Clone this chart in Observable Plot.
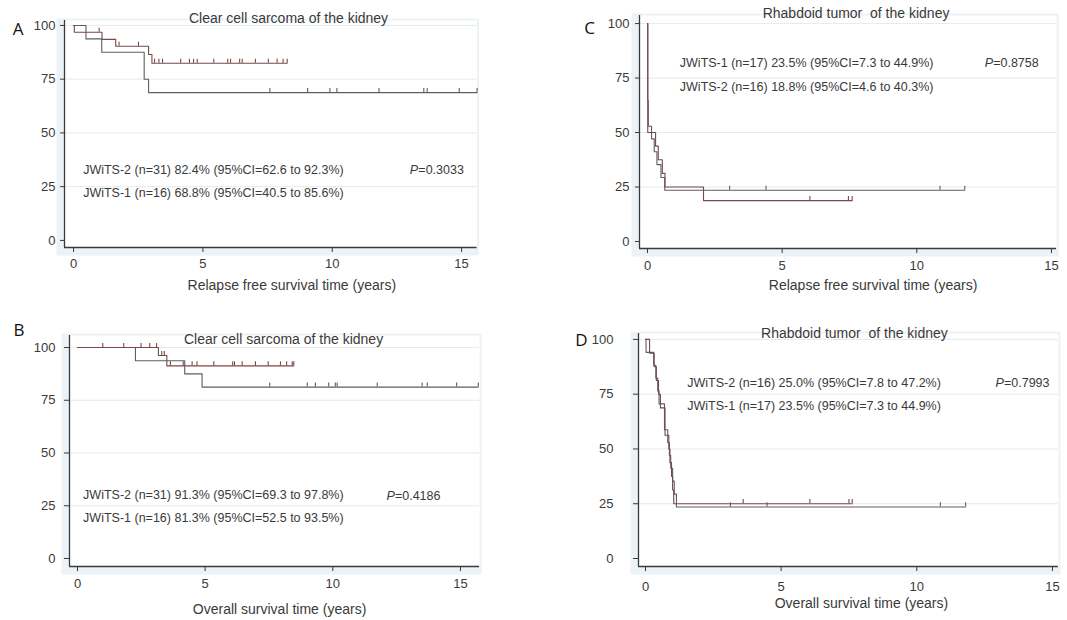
<!DOCTYPE html>
<html><head><meta charset="utf-8">
<script src="https://cdn.jsdelivr.net/npm/d3@7"></script>
<script src="https://cdn.jsdelivr.net/npm/@observablehq/plot@0.6"></script>
<style>
body{margin:0;background:#fff;}
#wrap{position:relative;width:1067px;height:620px;overflow:hidden;background:#fff;}
.panel{position:absolute;}
</style></head><body><div id="wrap"></div>
<script>
// ---------- data ----------
const yTicks = [0, 25, 50, 75, 100];
const xTicks = [0, 5, 10, 15];
const groupNames = ["JWiTS-1", "JWiTS-2"];
const groupColors = ["#5a5f66", "#7a4848"];

const panelLetters = ["A", "B", "C", "D"];
const panelTitles = ["Clear cell sarcoma of the kidney", "Clear cell sarcoma of the kidney", "Rhabdoid tumor  of the kidney", "Rhabdoid tumor  of the kidney"];
const xLabels = ["Relapse free survival time (years)", "Overall survival time (years)", "Relapse free survival time (years)", "Overall survival time (years)"];
const pValues = ["0.3033", "0.4186", "0.8758", "0.7993"];

const notesA = ["JWiTS-2 (n=31) 82.4% (95%CI=62.6 to 92.3%)", "JWiTS-1 (n=16) 68.8% (95%CI=40.5 to 85.6%)"];
const notesB = ["JWiTS-2 (n=31) 91.3% (95%CI=69.3 to 97.8%)", "JWiTS-1 (n=16) 81.3% (95%CI=52.5 to 93.5%)"];
const notesC = ["JWiTS-1 (n=17) 23.5% (95%CI=7.3 to 44.9%)", "JWiTS-2 (n=16) 18.8% (95%CI=4.6 to 40.3%)"];
const notesD = ["JWiTS-2 (n=16) 25.0% (95%CI=7.8 to 47.2%)", "JWiTS-1 (n=17) 23.5% (95%CI=7.3 to 44.9%)"];

// Panel A: clear cell sarcoma, relapse free survival
const A1_time = [0, 0.48, 1.09, 2.73, 2.9, 15.6];
const A1_surv = [100, 93.75, 87.5, 75, 68.75, 68.75];
const A1_cens = [7.59, 9.05, 9.91, 10.18, 11.81, 13.54, 13.67, 14.91, 15.6];
const A2_time = [0, 0.03, 1.1, 1.63, 2.9, 3.03, 8.26];
const A2_surv = [100, 96.8, 93.5, 90.3, 86.5, 82.4, 82.4];
const A2_cens = [0.99, 1.76, 2.51, 3.13, 3.3, 3.44, 4.14, 4.48, 4.64, 4.78, 5.42, 5.96, 6.07, 6.42, 6.52, 7.03, 7.53, 7.87, 8.1, 8.26];

// Panel B: clear cell sarcoma, overall survival
const B1_time = [0, 2.27, 4.2, 4.88, 15.7];
const B1_surv = [100, 93.75, 87.5, 81.25, 81.25];
const B1_cens = [7.53, 9.0, 9.32, 9.84, 10.1, 10.17, 11.74, 13.5, 13.7, 14.85, 15.7];
const B2_time = [0, 3.17, 3.5, 8.47];
const B2_surv = [100, 96.2, 91.3, 91.3];
const B2_cens = [0.99, 1.81, 2.49, 2.83, 3.1, 3.3, 3.4, 3.64, 4.14, 4.49, 4.68, 5.34, 6.08, 6.15, 6.45, 6.97, 7.47, 7.95, 8.19, 8.41, 8.47];

// Panel C: rhabdoid tumor, relapse free survival
const C1_time = [0, 0.01, 0.03, 0.15, 0.25, 0.35, 0.5, 0.64, 11.78];
const C1_surv = [100, 64.7, 52.9, 47.1, 41.2, 35.3, 29.4, 23.5, 23.5];
const C1_cens = [3.05, 4.4, 10.86, 11.78];
const C2_time = [0, 0.01, 0.3, 0.4, 0.55, 0.65, 2.08, 7.6];
const C2_surv = [100, 50, 43.75, 37.5, 31.25, 25, 18.75, 18.75];
const C2_cens = [6.03, 7.46, 7.6];

// Panel D: rhabdoid tumor, overall survival
const D1_time = [0, 0.02, 0.3, 0.38, 0.45, 0.5, 0.7, 0.82, 0.88, 0.93, 1.0, 1.06, 1.14, 11.8];
const D1_surv = [100, 94.1, 88.2, 82.4, 76.5, 70.6, 58.8, 52.9, 47.1, 41.2, 35.3, 29.4, 23.5, 23.5];
const D1_cens = [3.13, 4.48, 10.87, 11.8];
const D2_time = [0, 0.15, 0.32, 0.4, 0.48, 0.55, 0.72, 0.86, 0.9, 0.96, 1.0, 1.04, 7.62];
const D2_surv = [100, 93.75, 87.5, 81.25, 75, 68.75, 56.25, 50, 43.75, 37.5, 31.25, 25, 25];
const D2_cens = [3.6, 6.06, 7.5, 7.62];

// ---------- layout (positions / styles only) ----------
const layouts = [
  {left: 0, top: 0, width: 500, height: 300, mL: 64, mR: 23.4, mT: 20, mB: 53, xDom: [-0.35, 15.6], yDom: [-3.3, 102.3],
   yTick: 4, yPad: 5, xTick: 5, xPad: 6, title: [17.7, -2], letter: [-46.5, 9], xlab: [21, 38],
   noteX: 0.37, noteY: [32.9, 22], pX: 13.0, pY: 32.9},
  {left: 0, top: 300, width: 500, height: 320, mL: 69, mR: 20.9, mT: 35, mB: 54, xDom: [-0.313, 15.75], yDom: [-3.8, 105.7],
   yTick: 5, yPad: 9, xTick: 5, xPad: 7, title: [9, 4.3], letter: [-50.5, -5], xlab: [5, 43],
   noteX: 0.22, noteY: [29.9, 19.3], pX: 12.1, pY: 29.4},
  {left: 540, top: 0, width: 527, height: 300, mL: 99, mR: 10.9, mT: 15, mB: 52, xDom: [-0.297, 15.19], yDom: [-3.2, 103.7],
   yTick: 4, yPad: 6, xTick: 5, xPad: 7, title: [8, -1.7], letter: [-50, 13], xlab: [25, 37],
   noteX: 1.2, noteY: [82, 71.1], pX: 12.52, pY: 82},
  {left: 540, top: 300, width: 527, height: 320, mL: 98, mR: 9.1, mT: 33, mB: 54, xDom: [-0.258, 15.22], yDom: [-3.65, 102.7],
   yTick: 5, yPad: 20, xTick: 5, xPad: 10, title: [6, 0.3], letter: [-57, 7], xlab: [13, 37.5],
   noteX: 1.54, noteY: [80, 69.4], pX: 12.9, pY: 80}
];

const series = [
  [[A1_time, A1_surv, A1_cens], [A2_time, A2_surv, A2_cens]],
  [[B1_time, B1_surv, B1_cens], [B2_time, B2_surv, B2_cens]],
  [[C1_time, C1_surv, C1_cens], [C2_time, C2_surv, C2_cens]],
  [[D1_time, D1_surv, D1_cens], [D2_time, D2_surv, D2_cens]]
];
const notes = [notesA, notesB, notesC, notesD];

function curve(time, surv) { return time.map((t, i) => ({t, s: surv[i]})); }
function survAt(time, surv, t) {
  let v = surv[0];
  for (let i = 0; i < time.length; i++) if (time[i] <= t + 1e-9) v = surv[i];
  return v;
}

const FONT = "'Liberation Sans', Arial, Helvetica, sans-serif";
const TXT = "#3a3a3a";
const wrap = document.getElementById("wrap");

layouts.forEach((L, p) => {
  const marks = [
    Plot.frame({fill: "#edf2f6", stroke: "none", insetLeft: -8, insetBottom: -8, insetTop: -2, insetRight: -2}),
    Plot.frame({fill: "white", stroke: "none"}),
    Plot.ruleY(yTicks.filter(v => v > 0), {stroke: "#e4eaee", strokeWidth: 1})
  ];
  series[p].forEach(([time, surv, cens], g) => {
    marks.push(Plot.line(curve(time, surv), {x: "t", y: "s", curve: "step-after", stroke: groupColors[g], strokeWidth: 1.1}));
    marks.push(Plot.ruleX(cens, {x: d => d, y1: d => survAt(time, surv, d), y2: d => survAt(time, surv, d) + 1.9, stroke: groupColors[g], strokeWidth: 1.1}));
  });
  marks.push(
    Plot.ruleX([L.xDom[0]], {stroke: "#3a3a3a", strokeWidth: 1.3}),
    Plot.ruleY([L.yDom[0]], {stroke: "#3a3a3a", strokeWidth: 1.3}),
    Plot.axisX({ticks: xTicks, tickSize: L.xTick, tickPadding: L.xPad, label: null, stroke: "#3a3a3a", fill: TXT, fontSize: 13}),
    Plot.axisY({ticks: yTicks, tickSize: L.yTick, tickPadding: L.yPad, label: null, stroke: "#3a3a3a", fill: TXT, fontSize: 13}),
    Plot.text([panelTitles[p]], {frameAnchor: "top", lineAnchor: "middle", dx: L.title[0], dy: L.title[1], fontSize: 14, fill: TXT}),
    Plot.text([panelLetters[p]], {frameAnchor: "top-left", textAnchor: "middle", lineAnchor: "middle", dx: L.letter[0], dy: L.letter[1], fontSize: 17, fill: "#111", fontFamily: "'Open Sans', sans-serif"}),
    Plot.text([xLabels[p]], {frameAnchor: "bottom", lineAnchor: "middle", dx: L.xlab[0], dy: L.xlab[1], fontSize: 14, fill: TXT}),
    Plot.text(notes[p].map((t, i) => ({t, y: L.noteY[i]})), {x: () => L.noteX, y: "y", text: "t", textAnchor: "start", lineAnchor: "middle", fontSize: 12.5, fill: TXT}),
    Plot.text(["P"], {x: () => L.pX, y: () => L.pY, textAnchor: "start", lineAnchor: "middle", fontSize: 12.5, fontStyle: "italic", fill: TXT}),
    Plot.text(["=" + pValues[p]], {x: () => L.pX, y: () => L.pY, dx: 8.5, textAnchor: "start", lineAnchor: "middle", fontSize: 12.5, fill: TXT})
  );
  const chart = Plot.plot({
    width: L.width, height: L.height,
    marginLeft: L.mL, marginRight: L.mR, marginTop: L.mT, marginBottom: L.mB,
    x: {domain: L.xDom, label: null},
    y: {domain: L.yDom, label: null},
    style: {fontFamily: FONT, fontSize: "13px", color: TXT, background: "white", overflow: "visible"},
    marks
  });
  const div = document.createElement("div");
  div.className = "panel";
  div.style.left = L.left + "px";
  div.style.top = L.top + "px";
  div.appendChild(chart);
  wrap.appendChild(div);
});
</script>
</body></html>
